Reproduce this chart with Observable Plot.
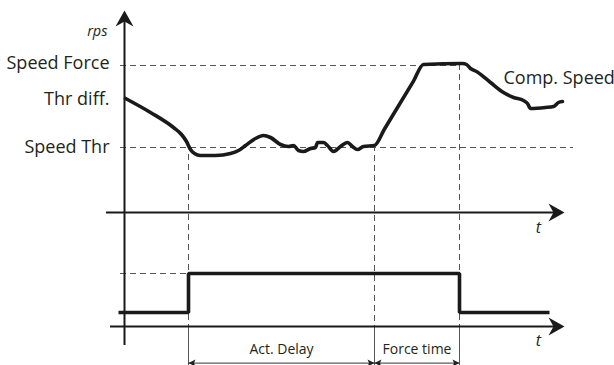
<!DOCTYPE html>
<html>
<head>
<meta charset="utf-8">
<script src="https://cdn.jsdelivr.net/npm/d3@7"></script>
<script src="https://cdn.jsdelivr.net/npm/@observablehq/plot@0.6"></script>
<style>
  body { margin: 0; background: #fff; }
  #chart svg { display: block; }
</style>
</head>
<body>
<div id="chart"></div>
<script>
// ---- Data (time in arbitrary units, speed in rps-like diagram units) ----
const speedT = [0.1, 2.6, 4.9, 5.7, 6.2, 6.6, 7.0, 7.6, 9.1, 10.6, 11.4, 12.1, 13.1, 13.9, 14.6, 15.6, 16.4, 16.9, 17.4, 17.9, 18.6, 19.1, 19.3, 19.9, 20.3, 20.9, 21.6, 22.3, 22.8, 23.3, 23.9, 25.0, 26.0, 28.9, 29.9, 33.8, 34.2, 34.6, 35.2, 36.6, 37.9, 38.9, 39.9, 40.3, 40.6, 42.1, 42.9, 43.4, 43.8];
const speedV = [57, 50, 42.5, 39, 35.5, 31.5, 29.5, 28.5, 28.5, 29.5, 31, 33.5, 37, 38.5, 37.5, 34, 33, 33.5, 31, 30.5, 32, 32.5, 35, 35, 33.5, 30.5, 33, 35, 33, 31.5, 33, 33.5, 41.75, 65.7, 74, 74.5, 74, 72, 70.5, 65, 60, 57.5, 56, 54.5, 52, 52.5, 53, 55, 55.5];

const levelLabels = ["Speed Force", "Thr diff.", "Speed Thr"];
const levelValues = [74.5, 56.5, 32.5];
const speedForce = 73.5;
const speedThr = 32.5;

// events: start of activation delay, end of delay, end of force time
const eventT = [6.4, 25.0, 33.5];
const eventSpeed = [29, 33.5, 74];

// digital signal (0 = off, 1 = on)
const signalT = [-0.6, 6.4, 33.5, 42.5];
const signalState = [0, 1, 0, 0];

const intervalLabels = ["Act. Delay", "Force time"];
const intervalStart = [6.4, 25.0];
const intervalEnd = [25.0, 33.5];

// ---- Diagram layout constants (data units) ----
const SIG_BASE = -50, SIG_AMP = 19.5;   // lower panel signal levels
const LOWER_AXIS = -57;                  // lower time axis
const BOTTOM = -76.5;
const sigY = s => SIG_BASE + s * SIG_AMP;

const speedData = speedT.map((t, i) => ({t, v: speedV[i]}));
const signalData = signalT.map((t, i) => ({t, s: signalState[i]}));
const levels = levelLabels.map((label, i) => ({label, v: levelValues[i]}));
const events = eventT.map((t, i) => ({t, top: eventSpeed[i]}));
const intervals = intervalLabels.map((label, i) => ({label, a: intervalStart[i], b: intervalEnd[i]}));

const dashedH = [
  {v: speedForce, a: -0.4, b: 33.5},
  {v: speedThr, a: -0.4, b: 44.9},
  {v: sigY(1), a: -0.4, b: 6.4}
];

// filled arrowhead symbols (tip at origin, pointing up)
const bigHead = {draw(ctx) { ctx.moveTo(0, 0); ctx.lineTo(9, 16); ctx.lineTo(0, 11); ctx.lineTo(-9, 16); ctx.closePath(); }};
const smallHead = {draw(ctx) { ctx.moveTo(0, 0); ctx.lineTo(3.5, 7); ctx.lineTo(0, 5.5); ctx.lineTo(-3.5, 7); ctx.closePath(); }};

const axisHeads = [
  {t: 44.0, v: 0, rot: 90},
  {t: 44.0, v: LOWER_AXIS, rot: 90},
  {t: 0, v: 101, rot: 0}
];
const bracketY = -75.3;
const bracketHeads = intervals.flatMap(d => [{t: d.a, rot: -90}, {t: d.b, rot: 90}]);

const INK = "#1a1a1a";
const DASH = "#555";
const TEXT = "#231f20";

const chart = Plot.plot({
  width: 614,
  height: 365,
  margin: 0,
  x: {domain: [-12.4, 49.0], axis: null},
  y: {domain: [BOTTOM, 106], axis: null},
  style: {fontFamily: "'Open Sans', sans-serif", background: "white", color: INK},
  marks: [
    // dashed reference levels
    Plot.ruleY(dashedH, {y: "v", x1: "a", x2: "b", stroke: DASH, strokeWidth: 1, strokeDasharray: "6,4"}),
    // dashed event verticals
    Plot.ruleX(events, {x: "t", y1: "top", y2: LOWER_AXIS, stroke: DASH, strokeWidth: 1, strokeDasharray: "6,4"}),
    Plot.ruleX(events, {x: "t", y1: LOWER_AXIS, y2: BOTTOM, stroke: DASH, strokeWidth: 1}),
    // axes
    Plot.ruleY([0], {x1: -1.8, x2: 43.0, stroke: INK, strokeWidth: 2}),
    Plot.ruleY([LOWER_AXIS], {x1: -1.4, x2: 43.0, stroke: INK, strokeWidth: 2}),
    Plot.ruleX([0], {y1: -66.5, y2: 96, stroke: INK, strokeWidth: 2}),
    Plot.dot(axisHeads, {x: "t", y: "v", rotate: "rot", symbol: bigHead, r: 5, fill: INK, stroke: "none"}),
    // compressor speed curve
    Plot.line(speedData, {x: "t", y: "v", curve: "monotone-x", stroke: INK, strokeWidth: 3.6, strokeLinejoin: "round"}),
    // digital signal
    Plot.line(signalData, {x: "t", y: d => sigY(d.s), curve: "step-after", stroke: INK, strokeWidth: 3.6, strokeLinejoin: "miter", strokeLinecap: "butt"}),
    // interval brackets
    Plot.ruleY(intervals, {x1: "a", x2: "b", y: bracketY, stroke: "#333", strokeWidth: 1}),
    Plot.dot(bracketHeads, {x: "t", y: bracketY, rotate: "rot", symbol: smallHead, r: 3, fill: "#222", stroke: "none"}),
    Plot.text(intervals, {x: d => (d.a + d.b) / 2, y: -68.5, text: "label", fontSize: 14, fill: TEXT}),
    // labels
    Plot.text(levels, {x: -1.5, y: "v", text: "label", textAnchor: "end", fontSize: 18, fill: TEXT}),
    Plot.text(["rps"], {x: -1.7, y: 90.5, text: d => d, textAnchor: "end", fontSize: 14.5, fontStyle: "italic", fill: TEXT}),
    Plot.text(["Comp. Speed"], {x: 37.9, y: 67, text: d => d, textAnchor: "start", fontSize: 18, fill: TEXT}),
    Plot.text([-7.5, -64], {x: 41.4, y: d => d, text: () => "t", fontSize: 16, fontStyle: "italic", fill: TEXT})
  ]
});
document.getElementById("chart").append(chart);
</script>
</body>
</html>
